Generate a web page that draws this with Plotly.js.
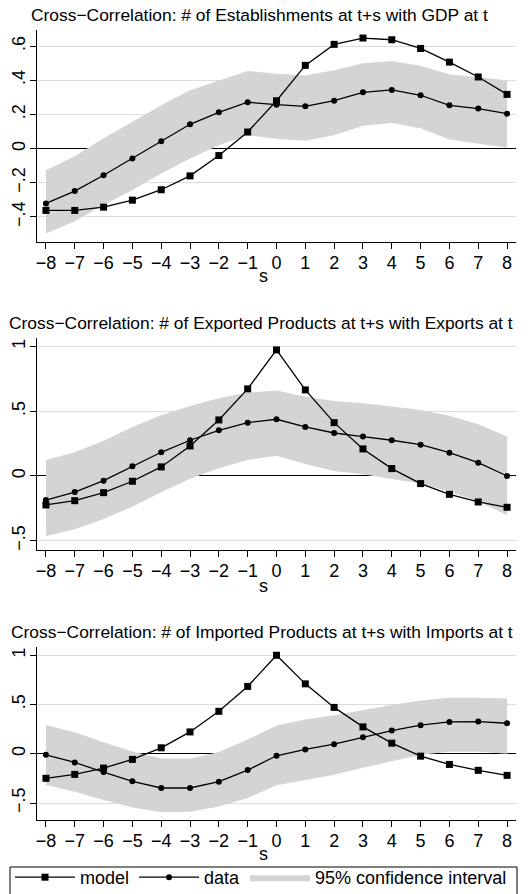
<!DOCTYPE html>
<html><head><meta charset="utf-8">
<script src="https://cdn.plot.ly/plotly-3.0.1.min.js"></script>
<style>html,body{margin:0;padding:0;background:#fff}#chart{width:532px;height:894px}</style>
</head><body><div id="chart"></div>
<script>
// ---- data ----
const lags = [-8,-7,-6,-5,-4,-3,-2,-1,0,1,2,3,4,5,6,7,8];

// Panel 1: # of Establishments at t+s with GDP at t
const estModel = [-0.362,-0.362,-0.343,-0.302,-0.241,-0.160,-0.041,0.097,0.280,0.487,0.610,0.647,0.637,0.586,0.506,0.419,0.317];
const estData  = [-0.321,-0.249,-0.156,-0.058,0.043,0.142,0.212,0.271,0.257,0.247,0.280,0.329,0.343,0.312,0.253,0.234,0.204];
const estUpper = [-0.127,-0.045,0.060,0.156,0.253,0.341,0.399,0.454,0.438,0.428,0.458,0.500,0.512,0.485,0.434,0.419,0.399];
const estLower = [-0.497,-0.425,-0.331,-0.243,-0.146,-0.058,0.019,0.078,0.058,0.045,0.078,0.134,0.150,0.119,0.053,0.029,0.004];

// Panel 2: # of Exported Products at t+s with Exports at t
const expModel = [-0.224,-0.191,-0.129,-0.041,0.070,0.232,0.433,0.673,0.974,0.665,0.412,0.209,0.057,-0.059,-0.142,-0.201,-0.242];
const expData  = [-0.186,-0.124,-0.036,0.075,0.183,0.276,0.353,0.412,0.438,0.379,0.332,0.304,0.276,0.242,0.180,0.103,0.000];
const expUpper = [0.124,0.183,0.273,0.379,0.469,0.541,0.601,0.644,0.660,0.613,0.580,0.562,0.536,0.510,0.466,0.399,0.304];
const expLower = [-0.464,-0.412,-0.332,-0.237,-0.126,-0.021,0.059,0.124,0.157,0.093,0.039,0.013,-0.023,-0.059,-0.121,-0.196,-0.304];

// Panel 3: # of Imported Products at t+s with Imports at t
const impModel = [-0.249,-0.209,-0.145,-0.057,0.061,0.222,0.431,0.684,1.000,0.710,0.471,0.273,0.108,-0.024,-0.108,-0.168,-0.219];
const impData  = [-0.010,-0.088,-0.185,-0.279,-0.347,-0.347,-0.283,-0.165,-0.020,0.044,0.098,0.168,0.236,0.290,0.323,0.327,0.310];
const impUpper = [0.293,0.219,0.118,0.024,-0.047,-0.051,0.017,0.145,0.286,0.347,0.391,0.444,0.495,0.542,0.569,0.569,0.562];
const impLower = [-0.316,-0.384,-0.468,-0.545,-0.593,-0.589,-0.535,-0.448,-0.320,-0.266,-0.212,-0.141,-0.074,-0.010,0.020,0.020,0.000];

const titles = [
  "Cross\u2212Correlation: # of Establishments at t+s with GDP at t",
  "Cross\u2212Correlation: # of Exported Products at t+s with Exports at t",
  "Cross\u2212Correlation: # of Imported Products at t+s with Imports at t"
];
const xAxisLabel = "s";
const xTickVals = lags;
const xTickText = ["\u22128","\u22127","\u22126","\u22125","\u22124","\u22123","\u22122","\u22121","0","1","2","3","4","5","6","7","8"];
const y1TickVals = [-0.4,-0.2,0,0.2,0.4,0.6];
const y1TickText = ["\u2212.4","\u2212.2","0",".2",".4",".6"];
const y23TickVals = [-0.5,0,0.5,1];
const y23TickText = ["\u2212.5","0",".5","1"];
const legendNames = ["model","data","95% confidence interval"];

// ---- build ----
const W = 532, H = 894;
const L = 37, R = 16, B = 35;      // plot region: x 37..516, y 0..859
const PH = H - B;
const BAND = "#d3d4d6";
const panels = [
  {model: estModel, data: estData, up: estUpper, lo: estLower, xa: "x", ya: "y"},
  {model: expModel, data: expData, up: expUpper, lo: expLower, xa: "x2", ya: "y2"},
  {model: impModel, data: impData, up: impUpper, lo: impLower, xa: "x3", ya: "y3"}
];
const traces = [];
panels.forEach((p, i) => {
  traces.push({x: lags, y: p.lo, xaxis: p.xa, yaxis: p.ya, type: "scatter", mode: "lines",
    line: {width: 0, color: BAND}, showlegend: false, hoverinfo: "skip"});
  traces.push({x: lags, y: p.up, xaxis: p.xa, yaxis: p.ya, type: "scatter", mode: "lines",
    fill: "tonexty", fillcolor: BAND, line: {width: 0, color: BAND},
    name: legendNames[2], showlegend: i === 0, legendrank: 3});
  traces.push({x: lags, y: p.model, xaxis: p.xa, yaxis: p.ya, type: "scatter", mode: "lines+markers",
    line: {color: "#000", width: 1.3}, marker: {symbol: "square", size: 7, color: "#000"},
    name: legendNames[0], showlegend: i === 0, legendrank: 1});
  traces.push({x: lags, y: p.data, xaxis: p.xa, yaxis: p.ya, type: "scatter", mode: "lines+markers",
    line: {color: "#000", width: 1.3}, marker: {symbol: "circle", size: 6, color: "#000"},
    name: legendNames[1], showlegend: i === 0, legendrank: 2});
});

const FONT = "Liberation Sans, Arial, Helvetica, sans-serif";
const px2x = (px) => (px - L) / (W - L - R);
const px2y = (py) => (PH - py) / PH;
function yDom(topPx, botPx) { return [px2y(botPx), px2y(topPx)]; }
function xAxis(anchor) {
  return {anchor: anchor, domain: [0, 1], range: [-8.31, 8.31], tickvals: xTickVals, ticktext: xTickText,
    ticks: "outside", ticklen: 6, tickwidth: 1, tickcolor: "#000", showgrid: false, zeroline: false,
    showline: true, linecolor: "#000", linewidth: 1.2, tickfont: {size: 18, color: "#000"},
    ticklabelstandoff: -2, fixedrange: true};
}
function yAxis(anchor, dom, range, tv, tt) {
  return {anchor: anchor, domain: dom, range: range, tickvals: tv, ticktext: tt, tickangle: -90,
    ticks: "outside", ticklen: 6, tickwidth: 1, tickcolor: "#000", showgrid: true, gridcolor: "#dcdcdc",
    gridwidth: 1, zeroline: true, zerolinecolor: "#000", zerolinewidth: 1,
    ticklabelposition: "outside", ticklabelstandoff: -2,
    showline: true, linecolor: "#000", linewidth: 1.2, tickfont: {size: 18, color: "#000"}, fixedrange: true};
}
function titleAnn(text, cx, cy, size) {
  return {text: text, x: px2x(cx), y: px2y(cy), xref: "paper", yref: "paper", showarrow: false,
    xanchor: "center", yanchor: "middle", font: {size: size, color: "#000"}};
}

const layout = {
  width: W, height: H, margin: {l: L, r: R, t: 0, b: B, autoexpand: false},
  paper_bgcolor: "#fff", plot_bgcolor: "#fff",
  font: {family: FONT, color: "#000"},
  showlegend: true,
  xaxis: xAxis("y"), xaxis2: xAxis("y2"), xaxis3: xAxis("y3"),
  yaxis: yAxis("x", yDom(30, 242), [-0.547, 0.694], y1TickVals, y1TickText),
  yaxis2: yAxis("x2", yDom(338, 550), [-0.572, 1.066], y23TickVals, y23TickText),
  yaxis3: yAxis("x3", yDom(647, 820), [-0.672, 1.084], y23TickVals, y23TickText),
  annotations: [
    titleAnn(titles[0], 259, 15, 17.4),
    titleAnn(titles[1], 261, 323, 17.4),
    titleAnn(titles[2], 262, 632, 17.4),
    titleAnn(xAxisLabel, 263, 276, 18),
    titleAnn(xAxisLabel, 263, 586, 18),
    titleAnn(xAxisLabel, 263, 854, 18)
  ],
  shapes: [
    {type: "rect", xref: "paper", yref: "paper", x0: px2x(10), x1: px2x(517), y0: px2y(867), y1: px2y(900),
      line: {color: "#000", width: 1}, fillcolor: "rgba(0,0,0,0)"}
  ],
  legend: {orientation: "h", x: px2x(10), xanchor: "left", y: 0, yanchor: "top",
    borderwidth: 0, bgcolor: "rgba(0,0,0,0)", font: {size: 18, color: "#000"},
    itemwidth: 60, traceorder: "normal"}
};
Plotly.newPlot("chart", traces, layout, {displayModeBar: false, staticPlot: true});
</script>
</body></html>
